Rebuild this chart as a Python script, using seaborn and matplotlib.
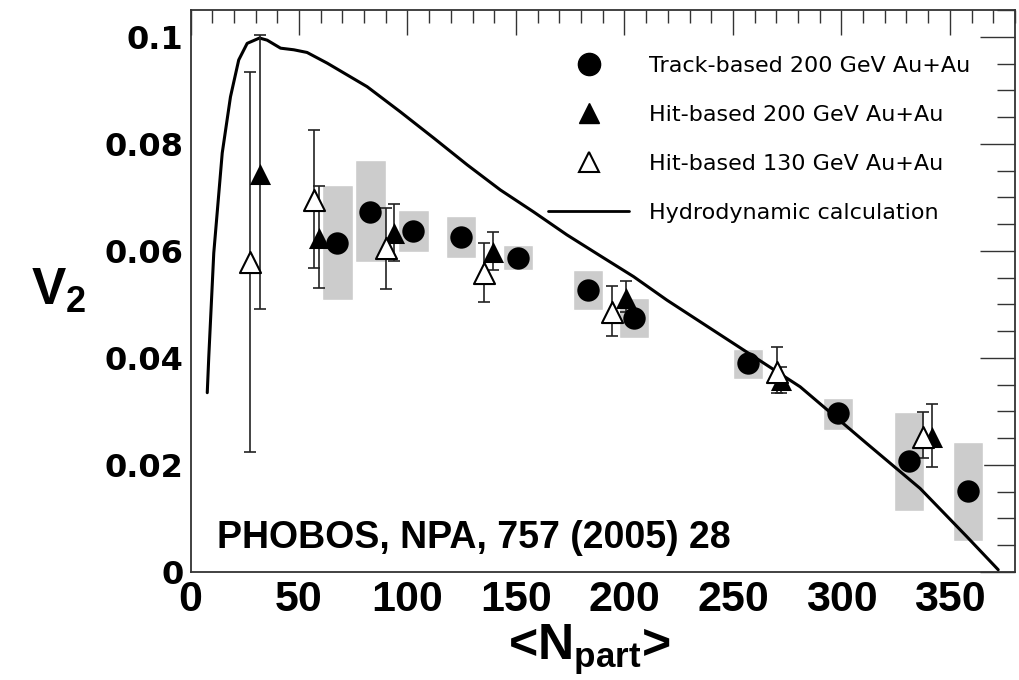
import numpy as np
import matplotlib
matplotlib.use("Agg")
import matplotlib.pyplot as plt
from matplotlib.lines import Line2D
from matplotlib.ticker import MultipleLocator
import seaborn as sns

# --- data ---
track_npart = [67.7, 82.9, 102.7, 124.8, 151.0, 183.3, 204.5, 257.0, 298.5, 331.2, 358.4]
track_v2 = [0.0615, 0.0673, 0.0637, 0.0626, 0.0587, 0.0527, 0.0475, 0.0391, 0.0297, 0.0207, 0.0151]
track_sys_lo = [0.0508, 0.0579, 0.0598, 0.0587, 0.0565, 0.0490, 0.0437, 0.0361, 0.0265, 0.0114, 0.0058]
track_sys_hi = [0.0723, 0.0770, 0.0677, 0.0665, 0.0611, 0.0564, 0.0512, 0.0417, 0.0325, 0.0299, 0.0243]

hit200_npart = [31.8, 59.4, 94.0, 139.6, 200.8, 272.2, 341.8]
hit200_v2 = [0.0744, 0.0624, 0.0634, 0.0598, 0.0512, 0.0359, 0.0252]
hit200_lo = [0.0492, 0.0531, 0.0581, 0.0564, 0.0486, 0.0334, 0.0196]
hit200_hi = [0.1004, 0.0722, 0.0688, 0.0636, 0.0544, 0.0383, 0.0314]

hit130_npart = [27.6, 56.7, 90.3, 135.4, 194.4, 270.4, 337.6]
hit130_v2 = [0.0579, 0.0695, 0.0606, 0.0559, 0.0486, 0.0374, 0.0252]
hit130_lo = [0.0224, 0.0568, 0.0529, 0.0505, 0.0441, 0.0335, 0.0213]
hit130_hi = [0.0935, 0.0826, 0.0680, 0.0615, 0.0535, 0.0421, 0.0299]

hydro_npart = [7.7, 8.4, 10.7, 14.6, 18.4, 22.2, 26.1, 31.8, 35.3, 41.5, 47.6, 53.7, 63.0,
               81.4, 96.7, 112.1, 127.5, 142.8, 158.1, 173.5, 188.8, 204.2, 219.6, 250.3,
               281.0, 311.7, 336.3, 357.8, 372.3]
hydro_v2 = [0.0335, 0.0402, 0.0596, 0.0783, 0.0888, 0.0957, 0.0988, 0.0998, 0.0994, 0.0979,
            0.0976, 0.0971, 0.0951, 0.0907, 0.0860, 0.0811, 0.0761, 0.0714, 0.0673, 0.0630,
            0.0591, 0.0552, 0.0508, 0.0427, 0.0346, 0.0240, 0.0156, 0.0066, 0.0004]

box_width = 14

sns.set_style("white")
plt.rcParams['font.family'] = ['Liberation Sans', 'DejaVu Sans']
plt.rcParams['mathtext.fontset'] = 'custom'
plt.rcParams['mathtext.rm'] = 'Liberation Sans:bold'
plt.rcParams['mathtext.bf'] = 'Liberation Sans:bold'
plt.rcParams['text.color'] = 'black'
plt.rcParams['axes.labelcolor'] = 'black'

fig = plt.figure(figsize=(10.19, 6.8), dpi=100)
ax = fig.add_axes([0.187, 0.159, 0.809, 0.826])

# systematic boxes
lo = np.array(track_sys_lo)
hi = np.array(track_sys_hi)
ax.bar(track_npart, hi - lo, bottom=lo, width=box_width, color='#cccccc', zorder=1)

# hydro curve
sns.lineplot(x=hydro_npart, y=hydro_v2, color='black', linewidth=2.2, sort=False,
             estimator=None, ax=ax, zorder=3)

# error bars
for xs, ys, l, h in [(hit200_npart, hit200_v2, hit200_lo, hit200_hi),
                     (hit130_npart, hit130_v2, hit130_lo, hit130_hi)]:
    ys = np.array(ys)
    err = [ys - np.array(l), np.array(h) - ys]
    ax.errorbar(xs, ys, yerr=err, fmt='none', ecolor='#222222', elinewidth=1.2,
                capsize=4, capthick=1.2, zorder=4)

sns.scatterplot(x=track_npart, y=track_v2, marker='o', s=260, color='black',
                edgecolor='black', linewidth=0, ax=ax, zorder=5)
sns.scatterplot(x=hit200_npart, y=hit200_v2, marker='^', s=230, color='black',
                edgecolor='black', linewidth=0, ax=ax, zorder=6)
sns.scatterplot(x=hit130_npart, y=hit130_v2, marker='^', s=230, color='white',
                edgecolor='black', linewidth=1.5, ax=ax, zorder=6)

ax.set_xlim(0, 380)
ax.set_ylim(0, 0.105)

ax.xaxis.set_major_locator(MultipleLocator(50))
ax.xaxis.set_minor_locator(MultipleLocator(10))
ax.yaxis.set_major_locator(MultipleLocator(0.02))
ax.yaxis.set_minor_locator(MultipleLocator(0.005))
ax.tick_params(which='both', direction='in', top=True, right=True, color='#333333',
               labelcolor='black')
ax.tick_params(which='major', axis='x', length=18, width=1)
ax.tick_params(which='minor', axis='x', length=9, width=1)
ax.tick_params(which='major', axis='y', length=25, width=1)
ax.tick_params(which='minor', axis='y', length=13, width=1)
ax.set_xticks([0, 50, 100, 150, 200, 250, 300, 350])
ax.set_xticklabels(['0', '50', '100', '150', '200', '250', '300', '350'],
                   fontsize=31, fontweight='bold')
ax.set_yticks([0, 0.02, 0.04, 0.06, 0.08, 0.1])
ax.set_yticklabels(['0', '0.02', '0.04', '0.06', '0.08', '0.1'],
                   fontsize=23, fontweight='bold', family='DejaVu Sans')
ax.tick_params(axis='x', pad=6)
ax.tick_params(axis='y', pad=5)
for s in ax.spines.values():
    s.set_color('#333333')
    s.set_linewidth(1.3)

ax.set_xlabel('<N$_{\\mathbf{part}}$>', fontsize=36, fontweight='bold')
ax.xaxis.set_label_coords(0.484, -0.091)
ax.set_ylabel('V$_{\\mathbf{2}}$', fontsize=37, fontweight='bold', rotation=0,
              ha='center', va='center')
ax.yaxis.set_label_coords(-0.16, 0.5)

ax.text(0.0315, 0.043, 'PHOBOS, NPA, 757 (2005) 28', transform=ax.transAxes,
        fontsize=27, fontweight='bold', va='baseline', ha='left', zorder=7)

handles = [
    Line2D([], [], marker='o', color='black', linestyle='none', markersize=16),
    Line2D([], [], marker='^', color='black', linestyle='none', markersize=15),
    Line2D([], [], marker='^', markerfacecolor='white', markeredgecolor='black',
           markeredgewidth=1.5, linestyle='none', markersize=15),
    Line2D([], [], color='black', linewidth=2),
]
labels = ['Track-based 200 GeV Au+Au', 'Hit-based 200 GeV Au+Au',
          'Hit-based 130 GeV Au+Au', 'Hydrodynamic calculation']
ax.legend(handles, labels, loc='upper left', bbox_to_anchor=(0.434, 0.918),
          frameon=False, handlelength=3.65, handletextpad=0.9,
          labelspacing=1.3, borderpad=0, borderaxespad=0,
          prop={'family': 'DejaVu Sans', 'size': 16})

fig.savefig('out.png', dpi=100)
